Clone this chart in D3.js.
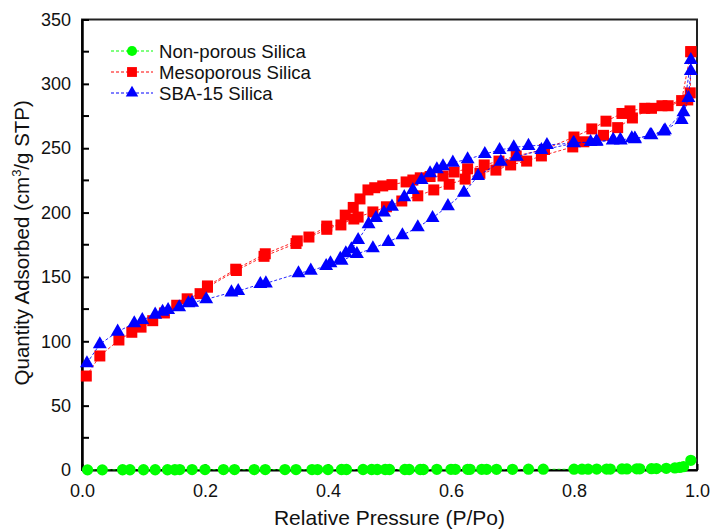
<!DOCTYPE html>
<html>
<head>
<meta charset="utf-8">
<script src="https://cdn.jsdelivr.net/npm/d3@7"></script>
<style>
  html, body { margin: 0; padding: 0; background: #fff; }
  svg { display: block; font-family: "Liberation Sans", Arial, sans-serif; }
</style>
</head>
<body>
<svg id="chart" width="713" height="530"></svg>
<script>
// N2 adsorption / desorption isotherms

// Non-porous silica
const nonPorousX = [0.009, 0.033, 0.066, 0.078, 0.100, 0.119, 0.139, 0.151, 0.159, 0.179, 0.200, 0.230, 0.248, 0.280, 0.298, 0.330, 0.348, 0.374, 0.383, 0.400, 0.422, 0.430, 0.457, 0.471, 0.480, 0.493, 0.500, 0.525, 0.532, 0.550, 0.555, 0.577, 0.600, 0.607, 0.627, 0.631, 0.650, 0.658, 0.674, 0.700, 0.726, 0.750, 0.800, 0.813, 0.823, 0.837, 0.853, 0.859, 0.878, 0.886, 0.902, 0.907, 0.926, 0.934, 0.950, 0.964, 0.972, 0.978, 0.990];
const nonPorousY = [0.1, 0.1, 0.2, 0.2, 0.2, 0.2, 0.2, 0.2, 0.3, 0.3, 0.3, 0.3, 0.3, 0.3, 0.3, 0.3, 0.3, 0.3, 0.3, 0.3, 0.4, 0.4, 0.4, 0.4, 0.4, 0.4, 0.4, 0.4, 0.4, 0.4, 0.4, 0.5, 0.5, 0.5, 0.5, 0.5, 0.5, 0.5, 0.5, 0.5, 0.6, 0.6, 0.6, 0.6, 0.6, 0.7, 0.7, 0.7, 0.8, 0.8, 0.9, 0.9, 1.0, 1.1, 1.3, 1.6, 2.0, 2.6, 7.5];

// Mesoporous silica: adsorption branch
const mesoAdsX = [0.007, 0.029, 0.060, 0.081, 0.096, 0.115, 0.134, 0.154, 0.171, 0.192, 0.204, 0.251, 0.296, 0.348, 0.398, 0.442, 0.449, 0.473, 0.495, 0.520, 0.546, 0.572, 0.597, 0.623, 0.647, 0.673, 0.697, 0.723, 0.747, 0.798, 0.816, 0.848, 0.871, 0.895, 0.926, 0.953, 0.985, 0.989, 0.990];
const mesoAdsY = [73, 88.6, 101, 107, 111, 116, 122, 128, 133, 137, 142, 155, 166, 176, 187, 195, 196.5, 200.5, 204.5, 209, 213, 217.6, 222, 226, 230.5, 233, 237, 240, 244, 251, 255, 260, 266, 273.5, 281, 283, 287.5, 293, 325];
// Mesoporous silica: desorption branch
const mesoDesX = [0.990, 0.975, 0.943, 0.915, 0.891, 0.878, 0.852, 0.829, 0.800, 0.752, 0.706, 0.678, 0.654, 0.627, 0.605, 0.587, 0.566, 0.550, 0.538, 0.527, 0.504, 0.489, 0.476, 0.465, 0.452, 0.441, 0.428, 0.421, 0.398, 0.369, 0.350, 0.298, 0.250, 0.204];
const mesoDesY = [325, 287, 283, 281, 279, 277, 271, 265, 258.7, 249, 244, 240, 237, 234, 231.5, 228.4, 228, 227, 225.3, 223.8, 221.7, 220.7, 219.3, 217.6, 210.6, 204, 198, 190.4, 189.5, 181, 178, 168, 156, 143];

// SBA-15 silica: adsorption branch
const sbaAdsX = [0.008, 0.029, 0.058, 0.085, 0.098, 0.119, 0.131, 0.140, 0.158, 0.173, 0.179, 0.202, 0.243, 0.254, 0.290, 0.299, 0.352, 0.372, 0.397, 0.404, 0.422, 0.447, 0.473, 0.498, 0.521, 0.546, 0.570, 0.595, 0.621, 0.644, 0.681, 0.707, 0.747, 0.800, 0.827, 0.836, 0.864, 0.875, 0.894, 0.899, 0.924, 0.948, 0.975, 0.986, 0.990];
const sbaAdsY = [83, 97.7, 107.5, 114, 116.5, 120.7, 123, 124.3, 126.4, 129.5, 130, 132.6, 138, 139, 144.5, 145, 152.8, 154.9, 158.5, 160.6, 162.6, 167.8, 172.3, 177.2, 182.4, 188.6, 195.8, 205, 215.5, 228.4, 239.5, 243.4, 248.6, 253.8, 254.8, 255, 256.4, 256.4, 257.7, 257, 260.3, 264, 272, 289, 310];
// SBA-15 silica: desorption branch
const sbaDesX = [0.990, 0.978, 0.946, 0.926, 0.899, 0.876, 0.863, 0.837, 0.799, 0.756, 0.726, 0.702, 0.679, 0.655, 0.627, 0.603, 0.587, 0.577, 0.566, 0.552, 0.538, 0.524, 0.504, 0.491, 0.478, 0.466, 0.449, 0.438, 0.429, 0.420];
const sbaDesY = [318.6, 278, 263, 260, 257.5, 256, 256, 255.3, 254, 252.5, 251.8, 250.7, 248.6, 245.5, 241.4, 238.8, 236, 233.6, 230.5, 225.3, 217.6, 212, 204.6, 200, 195.8, 191, 178.7, 171.5, 168.4, 164];

const xTicks = [0.0, 0.2, 0.4, 0.6, 0.8, 1.0];
const yTicks = [0, 50, 100, 150, 200, 250, 300, 350];
const yMinorTicks = [25, 75, 125, 175, 225, 275, 325];

const seriesNames = ["Non-porous Silica", "Mesoporous Silica", "SBA-15 Silica"];
const seriesColors = ["#00ff00", "#ff0000", "#0000ff"];

const zip = (xs, ys) => xs.map((x, i) => [x, ys[i]]);

const series = [
  { name: seriesNames[0], color: seriesColors[0], symbol: d3.symbolCircle, size: 100, branches: [zip(nonPorousX, nonPorousY)] },
  { name: seriesNames[1], color: seriesColors[1], symbol: d3.symbolSquare, size: 121, branches: [zip(mesoAdsX, mesoAdsY), zip(mesoDesX, mesoDesY)] },
  { name: seriesNames[2], color: seriesColors[2], symbol: d3.symbolTriangle, size: 84, branches: [zip(sbaAdsX, sbaAdsY), zip(sbaDesX, sbaDesY)] }
];

const margin = { left: 82, right: 16, top: 19.5, bottom: 60 };
const W = 713, H = 530;
const svg = d3.select("#chart");

const x = d3.scaleLinear().domain([0, 1]).range([margin.left, W - margin.right]);
const y = d3.scaleLinear().domain([0, 350]).range([H - margin.bottom, margin.top]);

// Frame
svg.append("rect")
  .attr("x", x(0)).attr("y", y(350))
  .attr("width", x(1) - x(0)).attr("height", y(0) - y(350))
  .attr("fill", "none").attr("stroke", "#222").attr("stroke-width", 2);

// Bottom axis, ticks pointing inward
const xAxis = d3.axisBottom(x).tickValues(xTicks).tickFormat(d3.format(".1f"))
  .tickSizeInner(-6).tickSizeOuter(0).tickPadding(14);
const gx = svg.append("g").attr("transform", `translate(0,${y(0)})`).call(xAxis);
gx.select(".domain").attr("stroke", "#000").attr("stroke-width", 2);
gx.selectAll(".tick line").attr("stroke", "#000").attr("stroke-width", 2);
gx.selectAll(".tick text").attr("font-size", 18).attr("fill", "#111")
  .attr("font-family", "Liberation Sans, Arial, sans-serif");

// Left axis, ticks pointing inward
const yAxis = d3.axisLeft(y).tickValues(yTicks).tickFormat(d3.format("d"))
  .tickSizeInner(-7).tickSizeOuter(0).tickPadding(11);
const gy = svg.append("g").attr("transform", `translate(${x(0)},0)`).call(yAxis);
gy.select(".domain").attr("stroke", "#000").attr("stroke-width", 2.5);
gy.selectAll(".tick line").attr("stroke", "#000").attr("stroke-width", 2);
gy.selectAll(".tick text").attr("font-size", 18).attr("fill", "#111")
  .attr("font-family", "Liberation Sans, Arial, sans-serif");

// Minor ticks on the left axis
svg.append("g").selectAll("line").data(yMinorTicks).join("line")
  .attr("x1", x(0)).attr("x2", x(0) + 7)
  .attr("y1", d => y(d)).attr("y2", d => y(d))
  .attr("stroke", "#000").attr("stroke-width", 2);

// Axis titles
svg.append("text")
  .attr("x", (x(0) + x(1)) / 2).attr("y", 525)
  .attr("text-anchor", "middle").attr("font-size", 21).attr("fill", "#111")
  .text("Relative Pressure (P/Po)");

const yTitle = svg.append("text")
  .attr("transform", `translate(29,${(y(0) + y(350)) / 2 - 2}) rotate(-90)`)
  .attr("text-anchor", "middle").attr("font-size", 20.5).attr("fill", "#111");
yTitle.append("tspan").text("Quantity Adsorbed (cm");
yTitle.append("tspan").attr("font-size", 13).attr("dy", -8).text("3");
yTitle.append("tspan").attr("dy", 8).text("/g STP)");

// Series: dashed connecting lines then symbols
const line = d3.line().x(d => x(d[0])).y(d => y(d[1]));
const plot = svg.append("g");
series.forEach(s => {
  const g = plot.append("g");
  s.branches.forEach(b => {
    g.append("path").attr("d", line(b))
      .attr("fill", "none").attr("stroke", s.color).attr("stroke-width", 1)
      .attr("stroke-dasharray", "3,2").attr("opacity", 0.85);
  });
  s.branches.forEach(b => {
    g.selectAll(null).data(b).join("path")
      .attr("transform", d => `translate(${x(d[0])},${y(d[1])})`)
      .attr("d", d3.symbol().type(s.symbol).size(s.size))
      .attr("fill", s.color);
  });
});

// Legend
const legend = svg.append("g");
const rowY = [51, 72, 93];
series.forEach((s, i) => {
  const g = legend.append("g").attr("transform", `translate(0,${rowY[i]})`);
  g.append("line").attr("x1", 111).attr("x2", 153).attr("y1", 0).attr("y2", 0)
    .attr("stroke", s.color).attr("stroke-width", 1).attr("stroke-dasharray", "3,2");
  g.append("path").attr("transform", "translate(132,0)")
    .attr("d", d3.symbol().type(s.symbol).size(s.size * 0.8))
    .attr("fill", s.color);
  g.append("text").attr("x", 159).attr("y", 6.5)
    .attr("font-size", 18.6).attr("fill", "#111").text(s.name);
});
</script>
</body>
</html>
